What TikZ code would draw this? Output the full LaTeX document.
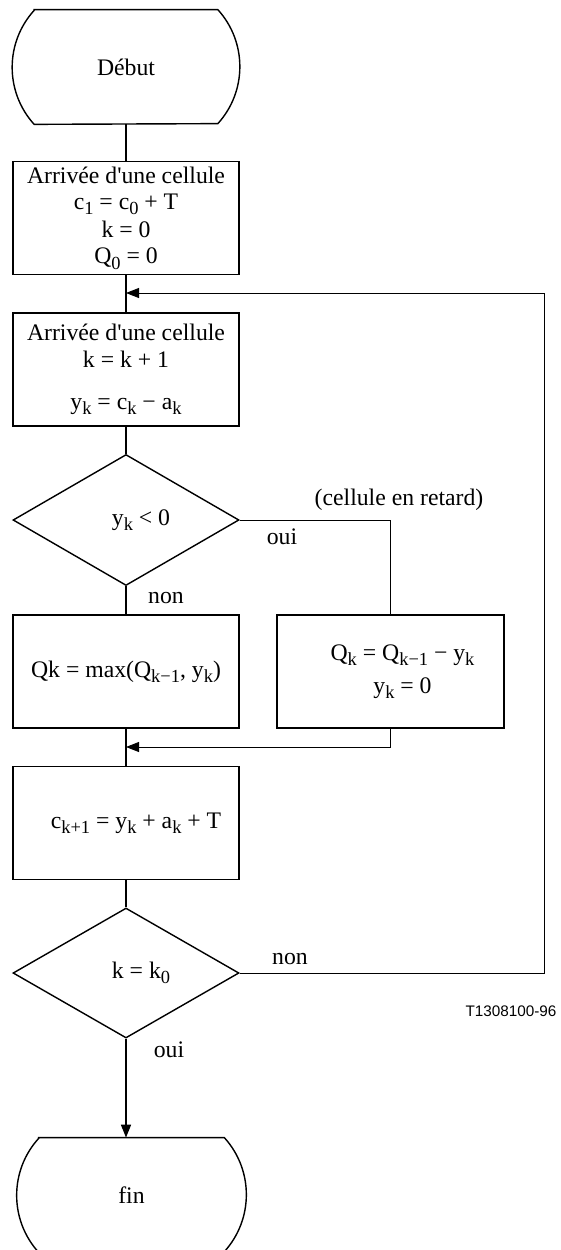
\documentclass[tikz,border=0pt]{standalone}
\usepackage{fontspec}
\setmainfont{Liberation Serif}
\setsansfont{Liberation Sans}
\usepackage{tikz}
\usetikzlibrary{shapes.geometric,arrows.meta,calc}

\newcommand{\idx}[1]{\raisebox{-3pt}{\fontsize{10.5}{10.5}\selectfont #1}}
% rounded-side terminal drawn round an invisible node
\newcommand{\termoutline}[1]{%
  \draw[line width=0.8pt] ($(#1.north west)+(0.44,0)$) -- ($(#1.north east)+(-0.44,0)$)
    arc[start angle=42.2,end angle=-42.2,radius=1.697cm]
    -- ($(#1.south west)+(0.44,0)$)
    arc[start angle=222.2,end angle=137.8,radius=1.697cm] -- cycle;}

\begin{document}
\begin{tikzpicture}[
          font=\fontsize{13.5}{15}\selectfont,
          term/.style={minimum width=4.54cm,minimum height=2.28cm,inner sep=0pt},
          box/.style={draw,line width=0.8pt,minimum width=4.52cm,
                      minimum height=2.26cm,align=center,inner sep=2pt},
          test/.style={draw,line width=0.8pt,diamond,aspect=2,
                       minimum width=4.52cm,minimum height=2.62cm,inner sep=0pt},
          flow/.style={line width=0.8pt},
          side/.style={line width=0.5pt},
          back/.style={line width=0.5pt,-{Triangle[length=2.6mm,width=2mm]}},
          txt/.style={inner sep=1pt}
        ]
        \useasboundingbox (0,0) rectangle (11.2,-25);
        \node[term] (debut) at (2.52,-1.34)  {Début};
        \node[box]  (init)  at (2.52,-4.36)  {Arrivée d\textquotesingle une cellule\\c\idx{1} = c\idx{0} + T\\[1pt]k = 0\\Q\idx{0} = 0};
        \node[box]  (arr)   at (2.52,-7.39)  {Arrivée d\textquotesingle une cellule\\k = k + 1\\[9pt]y\idx{k} = c\idx{k} − a\idx{k}};
        \node[test] (test1) at (2.52,-10.4)  {\hspace*{0.6cm}y\idx{k} < 0};
        \node[box]  (qmax)  at (2.52,-13.43) {Qk = max(Q\idx{k−1}, y\idx{k})};
        \node[box,minimum width=4.54cm] (qlate) at (7.81,-13.43)
              {\hspace*{0.48cm}Q\idx{k} = Q\idx{k−1} − y\idx{k}\\[4pt]\hspace*{0.48cm}y\idx{k} = 0};
        \node[box]  (cnext) at (2.52,-16.46) {\hspace*{0.4cm}c\idx{k+1} = y\idx{k} + a\idx{k} + T};
        \node[test,minimum height=2.6cm] (test2) at (2.52,-19.46) {\hspace*{0.6cm}k = k\idx{0}};
        \node[term,minimum width=4.58cm] (fin) at (2.63,-23.9) {fin};
        \termoutline{debut}
        \termoutline{fin}
        \coordinate (j1) at (2.52,-5.86);
        \coordinate (j2) at (2.52,-14.94);
        \coordinate (rt) at (10.88,-5.86);
        \draw[flow] (debut) -- (init);
        \draw[flow] (init)  -- (arr);
        \draw[flow] (arr)   -- (test1);
        \draw[flow] (test1) -- (qmax);
        \draw[flow] (qmax)  -- (cnext);
        \draw[flow] (cnext) -- (test2);
        \draw[flow,-{Triangle[length=2.6mm,width=2mm]}] (test2.south) -- (test2.south |- fin.north);
        \draw[side] (test1.east) -| (qlate.north);
        \draw[back] (qlate.south) |- (j2);
        \draw[back] (test2.east) -| (rt) -- (j1);
        \node[txt] (retard) at (7.98,-10.0)  {(cellule en retard)};
        \node[txt] (oui1)   at (5.64,-10.74) {oui};
        \node[txt] (non1)   at (3.32,-11.96) {non};
        \node[txt] (non2)   at (5.8,-19.18)  {non};
        \node[txt] (oui2)   at (3.38,-21.0)  {oui};
        \node[txt,font=\fontsize{8.7}{10}\selectfont\sffamily] (ref) at (10.22,-20.22) {T1308100-96};
      \end{tikzpicture}
\end{document}
